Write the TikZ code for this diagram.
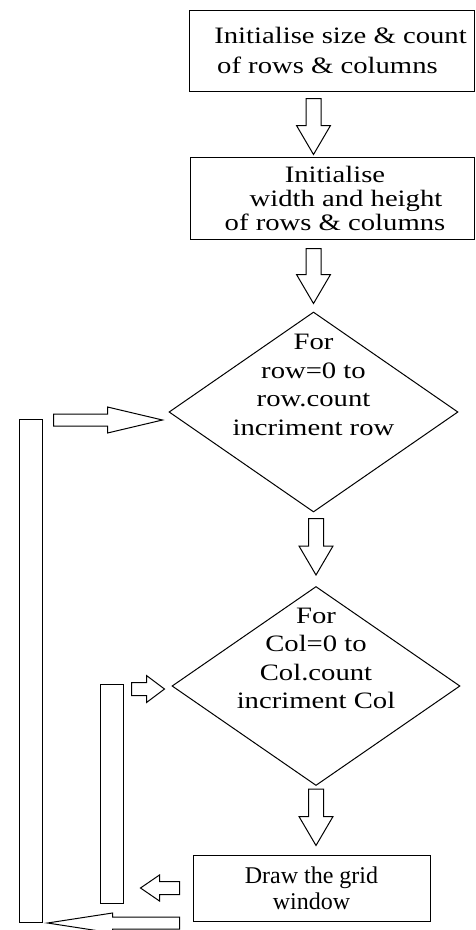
\documentclass[tikz,border=0pt]{standalone}
\usepackage{fontspec}
\setmainfont{Liberation Serif}
\newfontfamily\widefont[FakeStretch=1.22]{Liberation Serif}
\usetikzlibrary{shapes.geometric,calc}
\tikzset{
  box/.style={draw, line width=1pt, rectangle, inner sep=0pt, align=center},
  dia/.style={draw, line width=1pt, diamond, inner sep=0pt, minimum width=289pt, minimum height=200pt},
  bar/.style={draw, line width=1pt, rectangle, inner sep=0pt, minimum width=23pt},
  arrowline/.style={draw, line width=1pt, line join=miter, fill=white},
  diatext/.style={font=\widefont\fontsize{23.5}{28.5}\selectfont, align=center, inner sep=0pt}
}
\newcommand\blockarr[5]{%
  \coordinate (bah) at ($(#2)!#5!(#1)$);
  \draw[arrowline] ($(#1)!#3!90:(#2)$) -- ($(bah)!#3!90:(#2)$) -- ($(bah)!#4!90:(#2)$)
    -- (#2) -- ($(bah)!#4!-90:(#2)$) -- ($(bah)!#3!-90:(#2)$) -- ($(#1)!#3!-90:(#2)$) -- cycle;
}
\begin{document}
\begin{tikzpicture}[x=1pt, y=-1pt]
\useasboundingbox (0,0) rectangle (475,930);
\fill[white] (0,0) rectangle (475,930);
\clip (0,0) rectangle (475,930);

% nodes
\node[box, minimum width=285pt, minimum height=81pt,
      font=\widefont\fontsize{23.5}{30}\selectfont] (b1) at (331.5,50.5)
      {\hspace*{18pt}Initialise size \& count\\ of rows \& columns\hspace*{8pt}};
\node[box, minimum width=284pt, minimum height=82pt,
      font=\widefont\fontsize{23.5}{24}\selectfont] (b2) at (332,198)
      {\hspace*{6pt}Initialise\\ \hspace*{28pt}width and height\\\hspace*{6pt}of rows \& columns};
\node[dia, label={[diatext, yshift=27pt]center:{For\\row=0 to\\row.count\\incriment row}}] (d1) at (313.5,412) {};
\node[dia, minimum width=288pt, minimum height=199pt,
      label={[diatext, yshift=27.5pt]center:{For\\Col=0 to\\Col.count\\incriment Col}}] (d2) at (316,686) {};
\node[box, minimum width=237pt, minimum height=66pt,
      font=\fontsize{24}{29}\selectfont] (b3) at (311.5,888)
      {\raisebox{-5pt}{\shortstack{Draw the grid\\[1pt]window}}};
\node[bar, minimum height=503pt] (rb1) at (30.5,670.5) {};
\node[bar, minimum height=219pt] (rb2) at (111.5,793.5) {};

% coordinates for connector ends
\coordinate (a1s) at ($(b1.south -| d1.north)+(0,7)$);
\coordinate (a1e) at ($(b2.north -| d1.north)+(0,-2)$);
\coordinate (a2s) at ($(b2.south -| d1.north)+(0,9)$);
\coordinate (a2e) at ($(d1.north)+(0,-8)$);
\coordinate (a3s) at ($(d1.south -| d2.north)+(0,6)$);
\coordinate (a3e) at ($(d2.north)+(0,-11)$);
\coordinate (a4s) at ($(d2.south)+(0,3)$);
\coordinate (a4e) at ($(b3.north -| d2.south)+(0,-9)$);

\coordinate (h1s) at ($(rb1.east |- d1.west)+(11,8)$);
\coordinate (h1e) at ($(d1.west)+(-6,8)$);
\coordinate (h2s) at ($(rb2.east |- d2.west)+(8,3)$);
\coordinate (h2e) at ($(d2.west)+(-7,3)$);
\coordinate (h3s) at ($(b3.west)+(-13,0)$);
\coordinate (h3e) at ($(rb2.east |- b3.west)+(17,0)$);
\coordinate (h4s) at ($(b3.west)+(-13,35)$);
\coordinate (h4e) at ($(rb1.east |- h4s)+(5,0)$);

% block arrows
\blockarr{a1s}{a1e}{7.5pt}{17pt}{29pt}
\blockarr{a2s}{a2e}{7.5pt}{17pt}{29pt}
\blockarr{a3s}{a3e}{7.5pt}{17pt}{29pt}
\blockarr{a4s}{a4e}{7.5pt}{17pt}{29pt}
\blockarr{h1s}{h1e}{6pt}{13pt}{55pt}
\blockarr{h2s}{h2e}{6.5pt}{13.5pt}{18pt}
\blockarr{h3s}{h3e}{6.5pt}{13pt}{19pt}
\blockarr{h4s}{h4e}{6pt}{10pt}{65pt}
\end{tikzpicture}
\end{document}
